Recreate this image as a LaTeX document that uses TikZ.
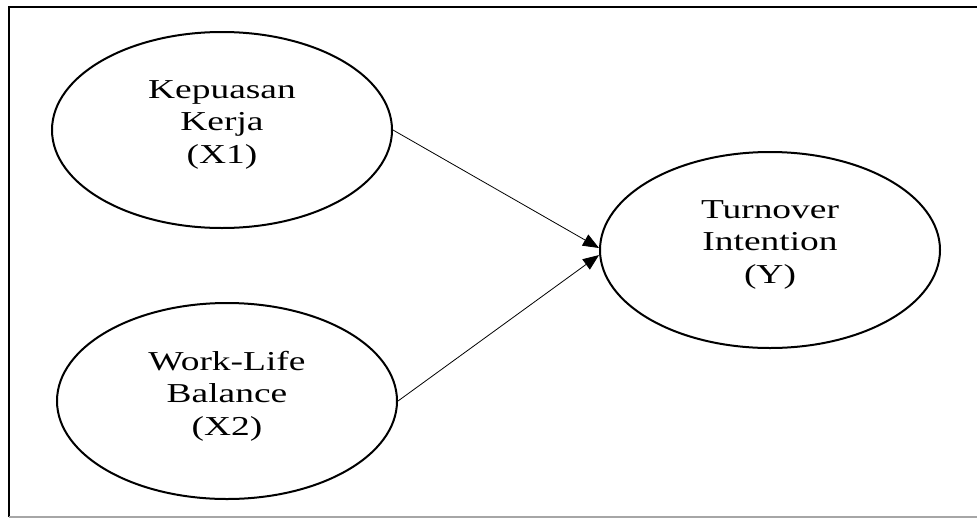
\documentclass[tikz,border=0pt]{standalone}
\usepackage{fontspec}
\newfontfamily\latentfont[FakeStretch=1.37]{Liberation Serif}
\usepackage{tikz}
\usetikzlibrary{shapes.geometric}
\usetikzlibrary{arrows.meta}

\begin{document}
\begin{tikzpicture}[x=0.75pt, y=-0.75pt, >={Triangle[length=12pt,width=9.5pt]},
		latent/.style={ellipse, draw, line width=1.5pt, minimum width=255pt, minimum height=147pt,
			align=center, text depth=12pt, font=\latentfont\fontsize{20.5}{24.4}\selectfont},
		path/.style={->, line width=0.6pt}]
	\useasboundingbox (0,0) rectangle (977,518);
	
	% bingkai
	\draw[line width=1.5pt] (9,517) -- (9,7) -- (977,7);
	\draw[black!35, line width=0.8pt] (9,517) -- (977,517);
	
	% variabel
	\node[latent] (x1) at (222,130) {Kepuasan\\Kerja\\(X1)};
	\node[latent] (x2) at (227,401) {Work-Life\\Balance\\(X2)};
	\node[latent] (y) at (770,250) {Turnover\\Intention\\(Y)};
	
	% jalur
	\draw[path] (x1.east) -- ([yshift=1.5pt]y.west);
	\draw[path] (x2.east) -- ([yshift=-3.8pt]y.west);
\end{tikzpicture}
\end{document}
